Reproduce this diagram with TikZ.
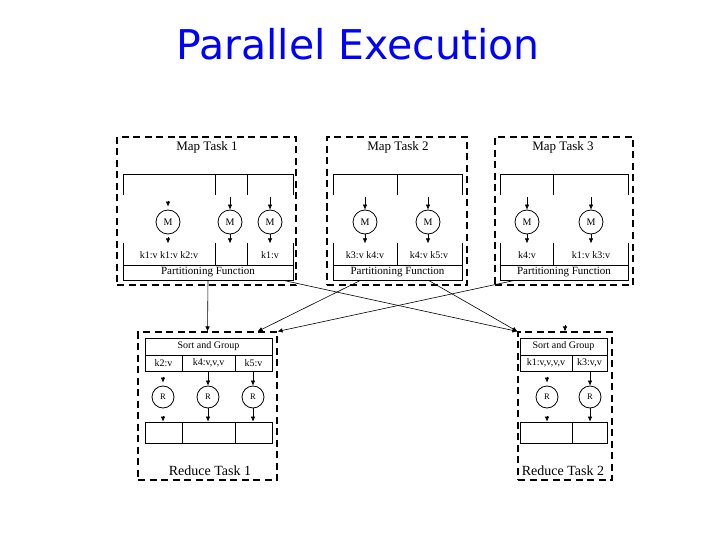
\documentclass[tikz,border=0pt]{standalone}
\usepackage{fontspec}
\setmainfont{Liberation Serif}
\newfontfamily\titlefont{DejaVu Sans}
\usetikzlibrary{arrows.meta,calc}

\tikzset{
  taskbox/.style={draw,line width=1.1pt,dash pattern=on 7pt off 4.5pt,inner sep=0pt},
  cell/.style={draw,line width=0.8pt,inner sep=0pt},
  mapper/.style={draw,circle,line width=0.8pt,minimum size=24pt,inner sep=0pt,font=\fontsize{10}{12}\selectfont},
  reducer/.style={draw,circle,line width=0.8pt,minimum size=22pt,inner sep=0pt,font=\fontsize{8.5}{10}\selectfont},
  flow/.style={-{Latex[length=5pt,width=4.5pt]},line width=0.6pt},
  pair/.style={font=\fontsize{10}{12}\selectfont},
  tasklabel/.style={font=\fontsize{13}{15}\selectfont}
}

\begin{document}
\begin{tikzpicture}[x=1pt,y=-1pt]
  \useasboundingbox (0,0) rectangle (720,540);
  \node[font=\titlefont\fontsize{41}{49}\selectfont,text=blue,anchor=base] (title) at (358,60) {Parallel Execution};

  % map task 1
  \node[taskbox,minimum width=179pt,minimum height=148pt] (map1) at (206.5,211) {};
  \node[tasklabel] (map1t) at (207,147) {Map Task 1};
  \draw[cell] (123,195) |- (293,174) -- (293,195);
  \draw[cell] (215,174) -- (215,195) (247,174) -- (247,195);
  \draw[cell] (123,243) -- (123,265) (215,243) -- (215,265) (247,243) -- (247,265) (293,243) -- (293,265);
  \node[cell,minimum width=170pt,minimum height=15pt,font=\fontsize{11}{13}\selectfont] (part1) at (208,272.5) {Partitioning Function};
  \node[mapper] (m11) at (168,222) {M};
  \node[mapper] (m12) at (230,222) {M};
  \node[mapper] (m13) at (270,222) {M};
  \node[pair] (k11) at (169,255) {k1:v k1:v k2:v};
  \node[pair] (k13) at (270,255) {k1:v};
  \draw[flow] ($(m11.north)+(0,-9)$) -- ($(m11.north)+(0,-3)$);
  \draw[flow] ($(m11.south)+(0,3)$) -- ($(m11.south)+(0,9)$);
  \foreach \m in {m12,m13}{
    \draw[flow] ($(\m.north)+(0,-13)$) -- (\m.north);
    \draw[flow] (\m.south) -- ++(0,9);
  }

  % map task 2
  \node[taskbox,minimum width=140pt,minimum height=148pt] (map2) at (397,211) {};
  \node[tasklabel] (map2t) at (398,147) {Map Task 2};
  \draw[cell] (333,195) |- (462,174) -- (462,195);
  \draw[cell] (397,174) -- (397,195);
  \draw[cell] (333,243) -- (333,265) (397,243) -- (397,265) (462,243) -- (462,265);
  \node[cell,minimum width=129pt,minimum height=15pt,font=\fontsize{11}{13}\selectfont] (part2) at (397.5,272.5) {Partitioning Function};
  \node[mapper] (m21) at (365,222) {M};
  \node[mapper] (m22) at (428,222) {M};
  \node[pair] (k21) at (365,255) {k3:v k4:v};
  \node[pair] (k22) at (429,255) {k4:v k5:v};
  \foreach \m in {m21,m22}{
    \draw[flow] ($(\m.north)+(0,-13)$) -- (\m.north);
    \draw[flow] (\m.south) -- ++(0,9);
  }

  % map task 3
  \node[taskbox,minimum width=138pt,minimum height=148pt] (map3) at (564,211) {};
  \node[tasklabel] (map3t) at (563,147) {Map Task 3};
  \draw[cell] (500,195) |- (628,174) -- (628,195);
  \draw[cell] (553,174) -- (553,195);
  \draw[cell] (500,243) -- (500,265) (553,243) -- (553,265) (628,243) -- (628,265);
  \node[cell,minimum width=128pt,minimum height=15pt,font=\fontsize{11}{13}\selectfont] (part3) at (564,272.5) {Partitioning Function};
  \node[mapper] (m31) at (527,222) {M};
  \node[mapper] (m32) at (591,222) {M};
  \node[pair] (k31) at (527,255) {k4:v};
  \node[pair] (k32) at (591,255) {k1:v k3:v};
  \foreach \m in {m31,m32}{
    \draw[flow] ($(\m.north)+(0,-13)$) -- (\m.north);
    \draw[flow] (\m.south) -- ++(0,9);
  }

  % reduce task 1
  \node[taskbox,minimum width=139pt,minimum height=148pt] (red1) at (207.5,406) {};
  \node[cell,minimum width=127pt,minimum height=17pt,font=\fontsize{10}{12}\selectfont] (sort1) at (208.5,346.5) {Sort and Group};
  \node[cell,pair,minimum width=37pt,minimum height=16pt] (g11) at (163.5,363) {k2:v};
  \node[cell,pair,minimum width=53pt,minimum height=16pt] (g12) at (208.5,363) {k4:v,v,v};
  \node[cell,pair,minimum width=37pt,minimum height=16pt] (g13) at (253.5,363) {k5:v};
  \node[reducer] (r11) at (163,397) {R};
  \node[reducer] (r12) at (208,397) {R};
  \node[reducer] (r13) at (253,397) {R};
  \node[cell,minimum width=37pt,minimum height=21pt] (o11) at (163.5,432.5) {};
  \node[cell,minimum width=53pt,minimum height=21pt] (o12) at (208.5,432.5) {};
  \node[cell,minimum width=37pt,minimum height=21pt] (o13) at (253.5,432.5) {};
  \node[font=\fontsize{14}{16}\selectfont] (red1t) at (210,471) {Reduce Task 1};
  \draw[flow] ($(r11.north)+(0,-9)$) -- ($(r11.north)+(0,-3)$);
  \draw[flow] ($(r11.south)+(0,8)$) -- (r11.south |- o11.north);
  \draw[flow] (r12.north |- g12.south) -- (r12.north);
  \draw[flow] (r12.south) -- (r12.south |- o12.north);
  \draw[flow] (r13.north |- g13.south) -- (r13.north);
  \draw[flow] (r13.south) -- (r13.south |- o13.north);

  % reduce task 2
  \node[taskbox,minimum width=94pt,minimum height=148pt] (red2) at (565,406) {};
  \node[cell,minimum width=87pt,minimum height=17pt,font=\fontsize{10}{12}\selectfont] (sort2) at (563.5,346.5) {Sort and Group};
  \node[cell,pair,minimum width=52pt,minimum height=16pt] (g21) at (546,363) {k1:v,v,v,v};
  \node[cell,pair,minimum width=35pt,minimum height=16pt] (g22) at (589.5,363) {k3:v,v};
  \node[reducer] (r21) at (547,397) {R};
  \node[reducer] (r22) at (590,397) {R};
  \node[cell,minimum width=52pt,minimum height=21pt] (o21) at (546,432.5) {};
  \node[cell,minimum width=35pt,minimum height=21pt] (o22) at (589.5,432.5) {};
  \node[font=\fontsize{14}{16}\selectfont] (red2t) at (563,471) {Reduce Task 2};
  \draw[flow] ($(r21.north)+(0,-9)$) -- ($(r21.north)+(0,-3)$);
  \draw[flow] ($(r21.south)+(0,8)$) -- (r21.south |- o21.north);
  \draw[flow] (r22.north |- g22.south) -- (r22.north);
  \draw[flow] (r22.south) -- (r22.south |- o22.north);

  % shuffle
  \draw[flow] (part1.south) -- (red1.north);
  \draw[flow] ($(part1.south east)+(-10,0)$) -- (red2.north west);
  \draw[flow] ($(part2.south)+(-37,0)$) -- ($(red1.north east)+(-20,0)$);
  \draw[flow] ($(part2.south)+(31,0)$) -- (red2.north west);
  \draw[flow] ($(part3.south west)+(15,0)$) -- (red1.north east);
  \draw[flow] ($(red2.north)+(0,-6)$) -- (red2.north);
\end{tikzpicture}
\end{document}
